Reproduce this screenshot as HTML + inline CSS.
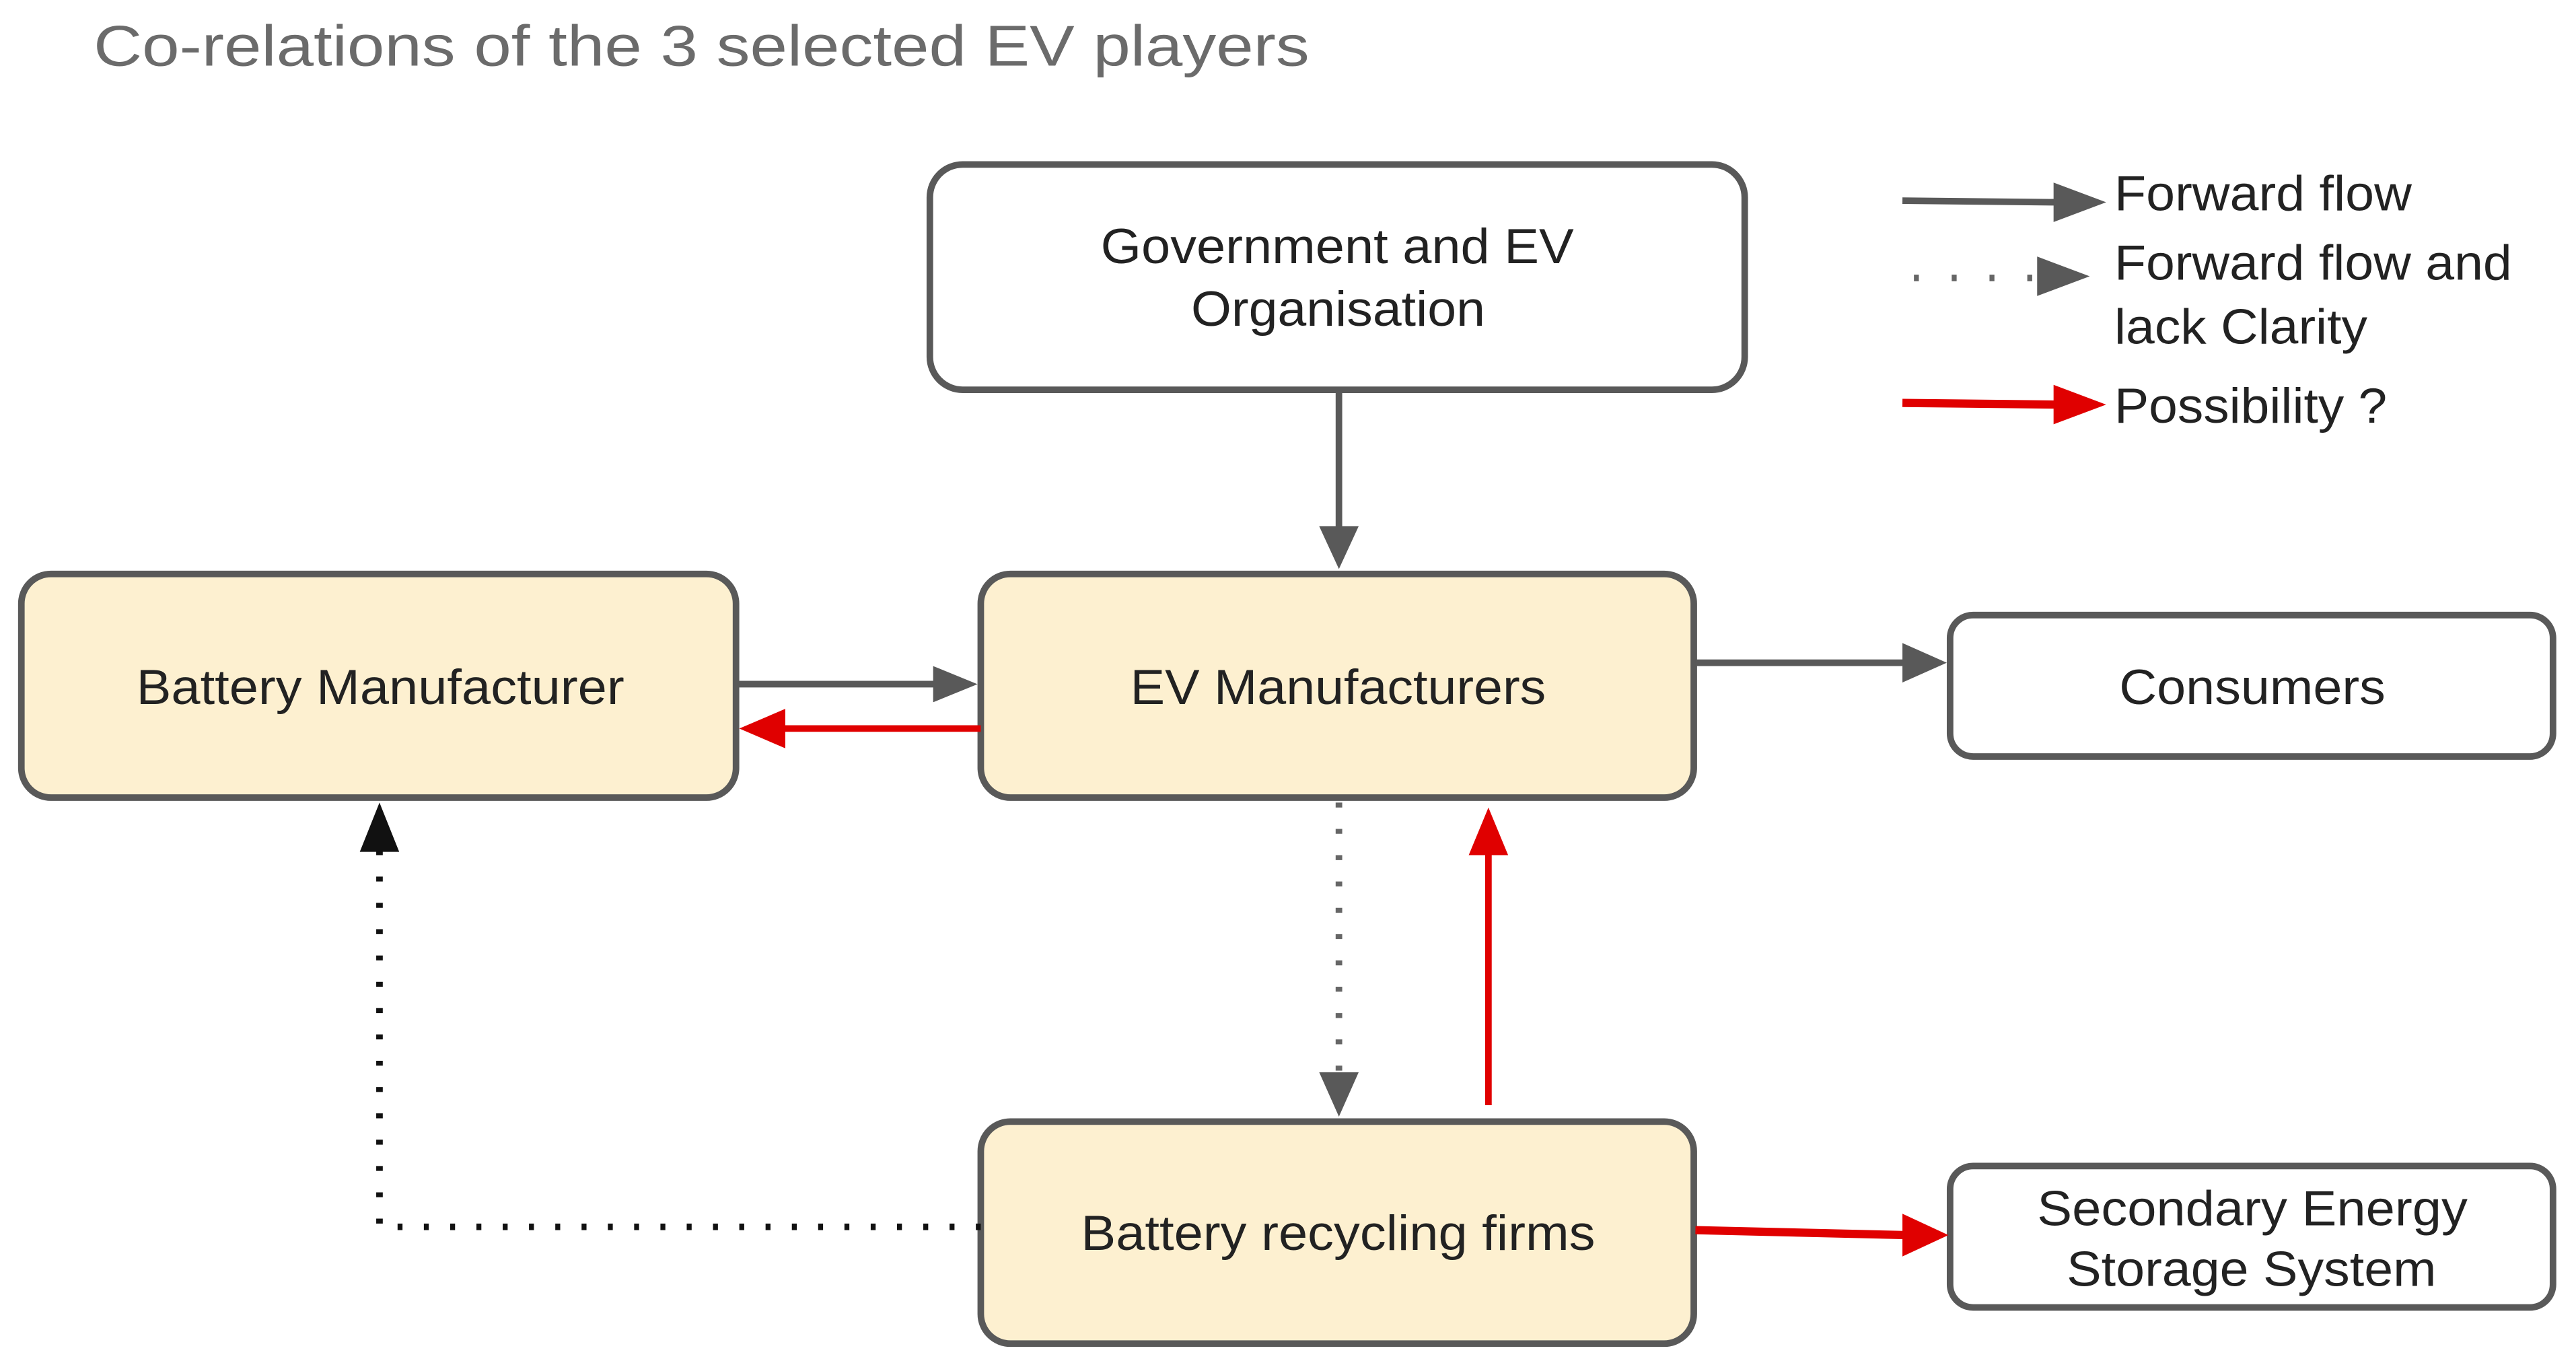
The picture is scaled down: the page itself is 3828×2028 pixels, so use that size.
<!DOCTYPE html>
<html><head><meta charset="utf-8"><style>
html,body{margin:0;padding:0;background:#fff}
svg{display:block}
text{font-family:"Liberation Sans",Arial,sans-serif}
</style></head><body>
<svg width="3828" height="2028" viewBox="0 0 1568 830" preserveAspectRatio="none" xmlns="http://www.w3.org/2000/svg">
<text x="57" y="40" font-size="35" fill="#6b6b6b" textLength="740" lengthAdjust="spacingAndGlyphs">Co-relations of the 3 selected EV players</text>

<g stroke="#595959" stroke-width="4">
<rect x="566" y="100" width="496" height="137" rx="20" fill="#fff"/>
<rect x="13" y="349" width="435" height="136" rx="18" fill="#fdf0d0"/>
<rect x="597" y="349" width="434" height="136" rx="18" fill="#fdf0d0"/>
<rect x="1187" y="374" width="367" height="86" rx="14" fill="#fff"/>
<rect x="597" y="682" width="434" height="135" rx="18" fill="#fdf0d0"/>
<rect x="1187" y="709" width="367" height="86" rx="14" fill="#fff"/>
</g>

<g font-size="30" fill="#222" lengthAdjust="spacingAndGlyphs">
<text x="670" y="160" textLength="288" lengthAdjust="spacingAndGlyphs">Government and EV</text>
<text x="725" y="198" textLength="179" lengthAdjust="spacingAndGlyphs">Organisation</text>
<text x="83" y="428" textLength="297" lengthAdjust="spacingAndGlyphs">Battery Manufacturer</text>
<text x="688" y="428" textLength="253" lengthAdjust="spacingAndGlyphs">EV Manufacturers</text>
<text x="1290" y="428" textLength="162" lengthAdjust="spacingAndGlyphs">Consumers</text>
<text x="658" y="760" textLength="313" lengthAdjust="spacingAndGlyphs">Battery recycling firms</text>
<text x="1240" y="745" textLength="262" lengthAdjust="spacingAndGlyphs">Secondary Energy</text>
<text x="1258" y="782" textLength="225" lengthAdjust="spacingAndGlyphs">Storage System</text>
</g>

<g stroke-width="4" fill="none">
<line x1="815" y1="238" x2="815" y2="322" stroke="#595959"/>
<line x1="449" y1="416" x2="570" y2="416" stroke="#595959"/>
<line x1="597" y1="443" x2="476" y2="443" stroke="#e00000"/>
<line x1="1032" y1="403" x2="1160" y2="403" stroke="#595959"/>
<line x1="815" y1="488" x2="815" y2="652" stroke="#666" stroke-dasharray="3 13"/>
<line x1="906" y1="672" x2="906" y2="518" stroke="#e00000"/>
<polyline points="597,746 231,746 231,515" stroke="#111" stroke-dasharray="3 13" stroke-width="4"/>
<line x1="1032" y1="748" x2="1160" y2="751" stroke="#e00000" stroke-width="5"/>
</g>
<g>
<polygon points="803,320 827,320 815,346" fill="#595959"/>
<polygon points="568,405 568,427 595,416" fill="#595959"/>
<polygon points="478,431 478,455 450,443" fill="#e00000"/>
<polygon points="1158,391 1158,415 1185,403" fill="#595959"/>
<polygon points="803,652 827,652 815,679" fill="#595959"/>
<polygon points="894,520 918,520 906,491" fill="#e00000"/>
<polygon points="219,518 243,518 231,488" fill="#111"/>
<polygon points="1158,738 1158,764 1186,751" fill="#e00000"/>
</g>

<g stroke-width="4">
<line x1="1158" y1="122" x2="1252" y2="123" stroke="#595959"/>
<line x1="1165" y1="169" x2="1240" y2="169" stroke="#666" stroke-dasharray="3 20"/>
<line x1="1158" y1="245" x2="1252" y2="246" stroke="#e00000" stroke-width="5"/>
</g>
<polygon points="1250,111 1250,135 1282,123" fill="#595959"/>
<polygon points="1240,156 1240,180 1272,168" fill="#595959"/>
<polygon points="1250,234 1250,258 1282,246" fill="#e00000"/>
<g font-size="30" fill="#222">
<text x="1287" y="128" textLength="181" lengthAdjust="spacingAndGlyphs">Forward flow</text>
<text x="1287" y="170" textLength="242" lengthAdjust="spacingAndGlyphs">Forward flow and</text>
<text x="1287" y="209" textLength="154" lengthAdjust="spacingAndGlyphs">lack Clarity</text>
<text x="1287" y="257" textLength="166" lengthAdjust="spacingAndGlyphs">Possibility ?</text>
</g>
</svg>
</body></html>
